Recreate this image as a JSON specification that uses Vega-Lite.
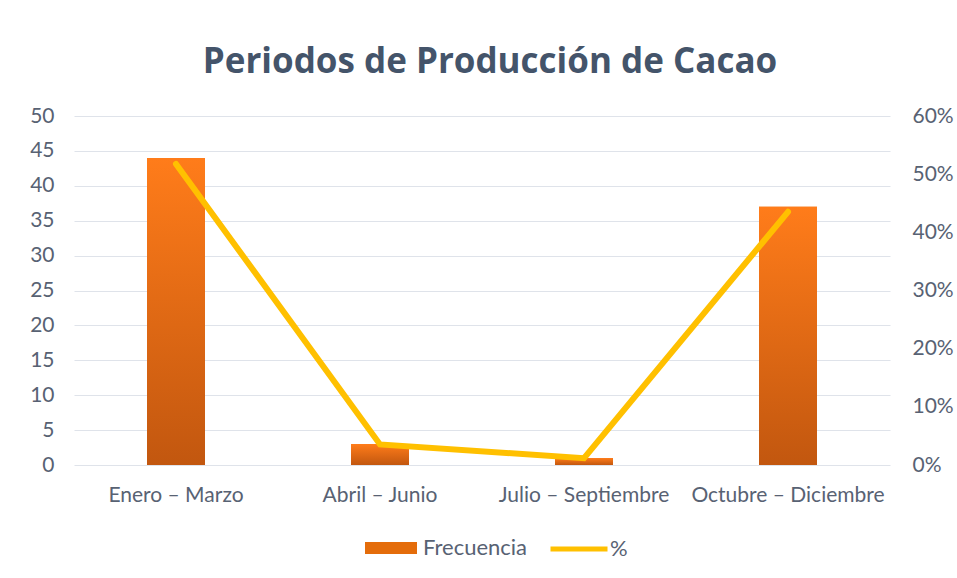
{
  "$schema": "https://vega.github.io/schema/vega-lite/v6.json",
  "autosize": {"type": "none"},
  "width": 816,
  "height": 349,
  "padding": {"left": 74, "top": 116, "right": 67, "bottom": 113},
  "background": "white",
  "config": {
    "view": {"stroke": null},
    "font": "Lato",
    "axis": {"labelColor": "#586273", "labelFontSize": 21, "labelFont": "Lato"}
  },
  "title": {
    "text": "Periodos de Producción de Cacao",
    "fontSize": 35,
    "fontWeight": "bold",
    "color": "#44546A",
    "font": "Open Sans",
    "anchor": "middle",
    "offset": 25,
    "dx": 8
  },
  "data": {
    "values": [
      {"periodo": "Enero – Marzo", "frecuencia": 44, "porcentaje": 0.5176},
      {"periodo": "Abril – Junio", "frecuencia": 3, "porcentaje": 0.0353},
      {"periodo": "Julio – Septiembre", "frecuencia": 1, "porcentaje": 0.0118},
      {"periodo": "Octubre – Diciembre", "frecuencia": 37, "porcentaje": 0.4353}
    ]
  },
  "encoding": {
    "x": {
      "field": "periodo",
      "type": "nominal",
      "sort": null,
      "scale": {"paddingInner": 0, "paddingOuter": 0},
      "axis": {"title": null, "labelAngle": 0, "domain": false, "ticks": false, "labelPadding": 19, "labelLimit": 400}
    }
  },
  "layer": [
    {
      "encoding": {
        "y": {
          "field": "frecuencia",
          "type": "quantitative",
          "scale": {"domain": [0, 50]},
          "axis": {"title": null, "values": [0,5,10,15,20,25,30,35,40,45,50], "domain": false, "ticks": false, "gridColor": "#dfe3ea", "labelPadding": 20}
        }
      },
      "layer": [
        {
          "mark": {"type": "bar", "width": 58},
          "encoding": {
            "fill": {
              "datum": "Frecuencia",
              "type": "nominal",
              "scale": {"range": ["#e46c0a"]},
              "legend": {
                "title": null,
                "orient": "none",
                "legendX": 291,
                "legendY": 406,
                "symbolType": "M-1,-0.23H1V0.23H-1Z",
                "symbolSize": 2704,
                "symbolStrokeWidth": 0,
                "labelFontSize": 22,
                "labelColor": "#586273",
                "labelOffset": 6
              }
            }
          }
        },
        {
          "mark": {
            "type": "bar",
            "width": 58,
            "color": {
              "gradient": "linear",
              "x1": 0, "y1": 0, "x2": 0, "y2": 1,
              "stops": [
                {"offset": 0, "color": "#ff7c1a"},
                {"offset": 1, "color": "#c2570f"}
              ]
            }
          },
          "encoding": {}
        }
      ]
    },
    {
      "mark": {"type": "line", "strokeWidth": 6, "strokeCap": "round", "strokeJoin": "miter"},
      "encoding": {
        "y": {
          "field": "porcentaje",
          "type": "quantitative",
          "scale": {"domain": [0, 0.6]},
          "axis": {"title": null, "orient": "right", "format": ".0%", "values": [0,0.1,0.2,0.3,0.4,0.5,0.6], "domain": false, "ticks": false, "grid": false, "labelPadding": 22}
        },
        "stroke": {
          "datum": "%",
          "type": "nominal",
          "scale": {"range": ["#ffc000"]},
          "legend": {
            "title": null,
            "orient": "none",
            "legendX": 474,
            "legendY": 402,
            "symbolType": "stroke",
            "symbolSize": 3249,
            "symbolStrokeWidth": 5,
            "labelFontSize": 22,
            "labelColor": "#586273",
            "labelOffset": 0
          }
        }
      }
    }
  ],
  "resolve": {"scale": {"y": "independent", "fill": "independent", "stroke": "independent"}}
}
